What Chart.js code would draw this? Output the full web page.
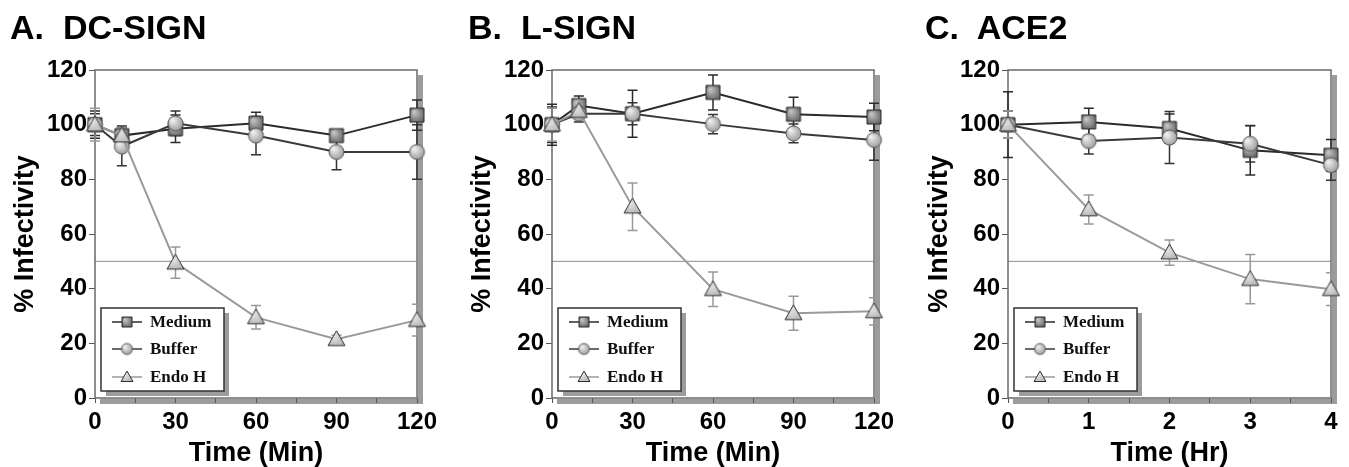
<!DOCTYPE html>
<html>
<head>
<meta charset="utf-8">
<script src="https://cdn.jsdelivr.net/npm/chart.js@4.4.1/dist/chart.umd.min.js"></script>
<style>
  html, body { margin: 0; padding: 0; background: #fff; }
  body { width: 1349px; height: 467px; position: relative; overflow: hidden; }
  .panel { position: absolute; top: 0; height: 467px; }
  .panel canvas { display: block; }
  .title { position: absolute; top: 10px; font: bold 34px "Liberation Sans", Arial, sans-serif; line-height: 34px; white-space: pre; color: #000; }
</style>
</head>
<body>
<div class="panel" style="left:0px;width:450px"><canvas id="chartA" width="450" height="467"></canvas></div>
<div class="panel" style="left:450px;width:450px"><canvas id="chartB" width="450" height="467"></canvas></div>
<div class="panel" style="left:900px;width:449px"><canvas id="chartC" width="449" height="467"></canvas></div>
<div class="title" style="left:10px">A.  DC-SIGN</div>
<div class="title" style="left:468px">B.  L-SIGN</div>
<div class="title" style="left:925px">C.  ACE2</div>

<script>
// ---- data ----
const minutes = [0, 10, 30, 60, 90, 120];
const hours = [0, 1, 2, 3, 4];
const seriesNames = ["Medium", "Buffer", "Endo H"];

const yTickValues = [0, 20, 40, 60, 80, 100, 120];
const minuteLabels = [0, 30, 60, 90, 120];
const hourLabels = [0, 1, 2, 3, 4];
const halfLine = 50;

// A. DC-SIGN
const dcMedium = [100, 96, 98.5, 100.5, 96, 103.5];
const dcMediumErr = [5, 3.5, 5, 4, 2, 5.5];
const dcBuffer = [100, 92, 100.5, 96, 90, 90];
const dcBufferErr = [4, 7, 4.5, 7, 6.5, 10];
const dcEndo = [100, 96, 49.5, 29.5, 21.5, 28.5];
const dcEndoErr = [6, 3, 5.7, 4.3, 1.5, 5.8];

// B. L-SIGN
const lMedium = [100, 107, 104, 111.8, 103.8, 102.8];
const lMediumErr = [7.5, 3.5, 8.6, 6.4, 6.2, 5];
const lBuffer = [100, 104, 104, 100.2, 96.8, 94.4];
const lBufferErr = [6.5, 3, 4, 3.5, 3.4, 7.4];
const lEndo = [100, 105, 70, 39.8, 31, 31.7];
const lEndoErr = [6, 2, 8.7, 6.3, 6.2, 5];

// C. ACE2
const aMedium = [100, 101, 98.6, 90.6, 88.8];
const aMediumErr = [12, 5, 5.3, 9, 5.8];
const aBuffer = [100, 94, 95.3, 93, 85.2];
const aBufferErr = [5, 4.7, 9.5, 6.7, 5.5];
const aEndo = [100, 69, 53.2, 43.5, 39.8];
const aEndoErr = [5, 5.3, 4.6, 9, 6];

const sans = '"Liberation Sans", Arial, sans-serif';
const serif = '"Liberation Serif", "Times New Roman", serif';

// shaded marker images
function makeMarker(shape, size, light, fill, edge) {
  const c = document.createElement('canvas');
  c.width = c.height = size + 4;
  const g = c.getContext('2d');
  const cx = c.width / 2, cy = c.height / 2, r = size / 2;
  const grad = g.createRadialGradient(cx - r * 0.4, cy - r * 0.45, r * 0.1, cx, cy, r * 1.3);
  grad.addColorStop(0, light);
  grad.addColorStop(1, fill);
  g.beginPath();
  if (shape === 'rect') {
    g.rect(cx - r, cy - r, size, size);
  } else if (shape === 'circle') {
    g.arc(cx, cy, r, 0, Math.PI * 2);
  } else {
    g.moveTo(cx, cy - r);
    g.lineTo(cx + r, cy + r * 0.75);
    g.lineTo(cx - r, cy + r * 0.75);
    g.closePath();
  }
  g.fillStyle = grad;
  g.fill();
  g.lineWidth = 1;
  g.strokeStyle = edge;
  g.stroke();
  return c;
}

const squareMark = makeMarker('rect', 14, '#c4c4c4', '#5c5c5c', '#2a2a2a');
const circleMark = makeMarker('circle', 15, '#f0f0f0', '#8e8e8e', '#555');
const triMark = makeMarker('tri', 17, '#e6e6e6', '#a8a8a8', '#333');
const squareSmall = makeMarker('rect', 10, '#c4c4c4', '#5c5c5c', '#2a2a2a');
const circleSmall = makeMarker('circle', 11, '#f0f0f0', '#8e8e8e', '#555');
const triSmall = makeMarker('tri', 12, '#e6e6e6', '#a8a8a8', '#333');

// frame, shadow and 50% line
const framePlugin = {
  id: 'frame',
  beforeDraw(chart) {
    const { ctx, chartArea: a } = chart;
    ctx.save();
    ctx.fillStyle = '#9c9c9c';
    ctx.fillRect(a.right + 1, a.top + 5, 5, a.bottom - a.top + 1);
    ctx.fillRect(a.left + 5, a.bottom + 1, a.right - a.left + 1, 5);
    ctx.restore();
  },
  beforeDatasetsDraw(chart) {
    const { ctx, chartArea: a, scales } = chart;
    ctx.save();
    const y50 = scales.y.getPixelForValue(halfLine);
    ctx.strokeStyle = '#8c8c8c';
    ctx.lineWidth = 1;
    ctx.beginPath();
    ctx.moveTo(a.left, y50);
    ctx.lineTo(a.right, y50);
    ctx.stroke();
    ctx.strokeStyle = '#6a6a6a';
    ctx.lineWidth = 1.5;
    ctx.strokeRect(a.left, a.top, a.right - a.left, a.bottom - a.top);
    ctx.restore();
  }
};

// error bars from the errors arrays
const errorBarPlugin = {
  id: 'errorBars',
  beforeDatasetsDraw(chart) {
    const { ctx, scales } = chart;
    ctx.save();
    chart.data.datasets.forEach((ds, di) => {
      const meta = chart.getDatasetMeta(di);
      ctx.strokeStyle = ds.errColor;
      ctx.lineWidth = 1.5;
      meta.data.forEach((pt, i) => {
        const v = ds.data[i].y, e = ds.errors[i];
        const yTop = scales.y.getPixelForValue(v + e);
        const yBot = scales.y.getPixelForValue(v - e);
        ctx.beginPath();
        ctx.moveTo(pt.x, yTop); ctx.lineTo(pt.x, yBot);
        ctx.moveTo(pt.x - 5, yTop); ctx.lineTo(pt.x + 5, yTop);
        ctx.moveTo(pt.x - 5, yBot); ctx.lineTo(pt.x + 5, yBot);
        ctx.stroke();
      });
    });
    ctx.restore();
  }
};

// boxed legend in the lower left corner
const boxLegendPlugin = {
  id: 'boxLegend',
  afterDatasetsDraw(chart) {
    const { ctx, chartArea: a } = chart;
    const w = 123, h = 83;
    const x = a.left + 6, y = a.bottom - 7 - h;
    ctx.save();
    ctx.fillStyle = '#9c9c9c';
    ctx.fillRect(x + 5, y + 5, w, h);
    ctx.fillStyle = '#fff';
    ctx.fillRect(x, y, w, h);
    ctx.strokeStyle = '#333';
    ctx.lineWidth = 1.5;
    ctx.strokeRect(x, y, w, h);
    const rows = [14, 41, 69];
    chart.data.datasets.forEach((ds, i) => {
      const ry = y + rows[i];
      ctx.strokeStyle = ds.borderColor;
      ctx.lineWidth = 1.5;
      ctx.beginPath();
      ctx.moveTo(x + 11, ry); ctx.lineTo(x + 41, ry);
      ctx.stroke();
      const m = ds.legendMark;
      ctx.drawImage(m, x + 26 - m.width / 2, ry - m.height / 2);
      ctx.fillStyle = '#111';
      ctx.font = 'bold 17px ' + serif;
      ctx.textBaseline = 'middle';
      ctx.textAlign = 'left';
      ctx.fillText(ds.label, x + 49, ry + 1);
    });
    ctx.restore();
  }
};

function makePanel(id, p) {
  const pts = vals => p.times.map((t, i) => ({ x: t, y: vals[i] }));
  const datasets = [
    { label: seriesNames[0], data: pts(p.medium), errors: p.mediumErr, borderColor: '#2b2b2b', errColor: '#2b2b2b',
      pointStyle: squareMark, legendMark: squareSmall, order: 2 },
    { label: seriesNames[1], data: pts(p.buffer), errors: p.bufferErr, borderColor: '#3a3a3a', errColor: '#333',
      pointStyle: circleMark, legendMark: circleSmall, order: 1 },
    { label: seriesNames[2], data: pts(p.endo), errors: p.endoErr, borderColor: '#9a9a9a', errColor: '#999',
      pointStyle: triMark, legendMark: triSmall, order: 0 }
  ];
  datasets.forEach(d => { d.clip = false; d.borderWidth = 2; d.tension = 0; d.pointRadius = 7; });

  new Chart(document.getElementById(id), {
    type: 'line',
    data: { datasets },
    options: {
      responsive: false,
      animation: false,
      events: [],
      layout: { padding: { top: 70, right: p.padRight, bottom: 0, left: 0 } },
      plugins: { legend: { display: false }, tooltip: { enabled: false }, title: { display: false } },
      scales: {
        x: {
          type: 'linear', min: 0, max: p.xMax,
          afterFit: s => { s.height = 69; },
          border: { display: false },
          grid: { drawOnChartArea: false, drawTicks: true, tickLength: 5, color: '#555', lineWidth: 1 },
          ticks: {
            stepSize: p.xStep, autoSkip: false, maxRotation: 0, padding: 5, color: '#000',
            font: { family: sans, size: 24, weight: 'bold' },
            callback: v => p.xLabels.includes(v) ? String(v) : ''
          },
          title: { display: true, text: p.xTitle, color: '#000', padding: 0,
                   font: { family: sans, size: 27, weight: 'bold', lineHeight: 1 } }
        },
        y: {
          min: 0, max: yTickValues[yTickValues.length - 1],
          afterFit: s => { s.width = p.yWidth; },
          afterBuildTicks: s => { s.ticks = yTickValues.map(v => ({ value: v })); },
          border: { display: false },
          grid: { drawOnChartArea: false, drawTicks: true, tickLength: 6, color: '#555', lineWidth: 1 },
          ticks: { padding: 2, color: '#000', font: { family: sans, size: 24, weight: 'bold' } },
          title: { display: true, text: '% Infectivity', color: '#000', padding: { top: p.yTitlePad, bottom: 0 },
                   font: { family: sans, size: 27, weight: 'bold', lineHeight: 1 } }
        }
      }
    },
    plugins: [framePlugin, errorBarPlugin, boxLegendPlugin]
  });
}

makePanel('chartA', {
  times: minutes, medium: dcMedium, mediumErr: dcMediumErr, buffer: dcBuffer, bufferErr: dcBufferErr,
  endo: dcEndo, endoErr: dcEndoErr, xMax: 120, xStep: 15, xLabels: minuteLabels, xTitle: 'Time (Min)',
  yWidth: 95, yTitlePad: 12.5, padRight: 33
});
makePanel('chartB', {
  times: minutes, medium: lMedium, mediumErr: lMediumErr, buffer: lBuffer, bufferErr: lBufferErr,
  endo: lEndo, endoErr: lEndoErr, xMax: 120, xStep: 15, xLabels: minuteLabels, xTitle: 'Time (Min)',
  yWidth: 102, yTitlePad: 19.5, padRight: 26
});
makePanel('chartC', {
  times: hours, medium: aMedium, mediumErr: aMediumErr, buffer: aBuffer, bufferErr: aBufferErr,
  endo: aEndo, endoErr: aEndoErr, xMax: 4, xStep: 0.5, xLabels: hourLabels, xTitle: 'Time (Hr)',
  yWidth: 108, yTitlePad: 26.5, padRight: 18
});
</script>
</body>
</html>
